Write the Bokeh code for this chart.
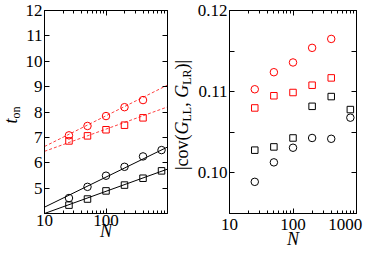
from bokeh.plotting import figure
from bokeh.models import (Div, LogAxis, LinearAxis, FixedTicker,
                          PrintfTickFormatter, CustomJSTickFormatter, Range1d)
from bokeh.layouts import row
from bokeh.embed import file_html
from bokeh.resources import INLINE

# ---------------- data: left panel (t_on vs N) ----------------
N_left = [25, 50, 100, 200, 400, 800]
ton_black_circle = [4.61, 5.05, 5.49, 5.84, 6.25, 6.50]
ton_black_square = [4.33, 4.57, 4.89, 5.12, 5.39, 5.68]
N_red = [25, 50, 100, 200, 400]
ton_red_circle = [7.08, 7.45, 7.84, 8.19, 8.47]
ton_red_square = [6.86, 7.06, 7.30, 7.48, 7.77]

fit_N = [10, 1000]
fit_black_circle = [4.25, 6.62]
fit_black_square = [4.00, 5.75]
fit_red_circle = [6.64, 9.06]
fit_red_square = [6.45, 8.20]

left_yticks = [5, 6, 7, 8, 9, 10, 11, 12]
left_xticks = [10, 100]

# ---------------- data: right panel (|cov| vs N) ----------------
N_right_red = [25, 50, 100, 200, 400]
cov_red_circle = [0.1103, 0.1124, 0.1136, 0.1154, 0.1165]
cov_red_square = [0.1080, 0.1095, 0.1099, 0.1108, 0.1117]
N_right_black = [25, 50, 100, 200, 400, 800]
cov_black_square = [0.1028, 0.1032, 0.1043, 0.1082, 0.1094, 0.1078]
cov_black_circle = [0.0989, 0.1013, 0.1031, 0.1043, 0.1042, 0.1068]

right_yticks = [0.10, 0.11, 0.12]
right_yminor = [0.105, 0.115]
right_xticks = [10, 100, 1000]

x_minor = [20, 30, 40, 50, 60, 70, 80, 90, 200, 300, 400, 500, 600, 700, 800, 900]

FONT = "Liberation Serif"
RED = "#ff0000"
H = 251          # figure height
TOP_B = 10
BOT_B = 31
FRAME_H = H - TOP_B - BOT_B
CENTER_FROM_TOP = TOP_B + FRAME_H / 2


def style_axis(ax, show_labels=True, minor=True, minor_len=3, standoff=2):
    ax.axis_line_color = "black"
    ax.major_tick_in = 5
    ax.major_tick_out = 0
    ax.minor_tick_in = minor_len if minor else 0
    ax.minor_tick_out = 0
    ax.major_tick_line_color = "black"
    ax.minor_tick_line_color = "black" if minor else None
    ax.major_label_text_font = FONT
    ax.major_label_text_font_size = "17px"
    ax.major_label_text_color = "black"
    ax.major_label_standoff = standoff if show_labels else 0
    if not show_labels:
        ax.formatter = CustomJSTickFormatter(code="return ''")


def make_fig(width, left_b, right_b, y_range):
    p = figure(x_axis_type="log", x_range=Range1d(10, 1000), y_range=y_range,
               width=width, height=H,
               min_border_left=left_b, min_border_right=right_b,
               min_border_top=TOP_B, min_border_bottom=BOT_B,
               output_backend="svg", toolbar_location=None)
    p.grid.visible = False
    p.outline_line_color = "black"
    p.background_fill_color = "white"
    p.border_fill_color = "white"
    return p


def label_div(width, inner_html, left):
    html = (
        f'<div style="position:absolute; left:{left}px; top:{CENTER_FROM_TOP}px; '
        'transform-origin:0 0; transform:rotate(-90deg) translateX(-50%); '
        f"white-space:nowrap; font-family:'{FONT}', serif; font-size:18px; "
        'line-height:18px; color:black;">' + inner_html + '</div>'
    )
    return Div(text=html, width=width, height=H, margin=0,
               styles={"position": "relative", "overflow": "visible"})


SUB = '<span style="font-size:12px; position:relative; top:3px;">{}</span>'


def style_xlabel(ax):
    ax.axis_label = "N"
    ax.axis_label_text_font = FONT
    ax.axis_label_text_font_size = "18px"
    ax.axis_label_text_font_style = "italic"
    ax.axis_label_text_color = "black"
    ax.axis_label_standoff = -8


# ---------------- left figure ----------------
p1 = make_fig(146, 19, 1, Range1d(4, 12))
p1.line(fit_N, fit_black_circle, color="black", line_width=1)
p1.line(fit_N, fit_black_square, color="black", line_width=1)
p1.line(fit_N, fit_red_circle, color=RED, line_width=1, line_dash="3 2", line_alpha=0.75)
p1.line(fit_N, fit_red_square, color=RED, line_width=1, line_dash="3 2", line_alpha=0.75)
p1.scatter(N_left, ton_black_circle, marker="circle", size=7.5, fill_color=None,
           line_color="black", line_width=1)
p1.scatter(N_left, ton_black_square, marker="square", size=6.5, fill_color=None,
           line_color="black", line_width=1)
p1.scatter(N_red, ton_red_circle, marker="circle", size=7.5, fill_color=None,
           line_color=RED, line_width=1)
p1.scatter(N_red, ton_red_square, marker="square", size=6.5, fill_color=None,
           line_color=RED, line_width=1)

xa = p1.xaxis[0]
xa.ticker = FixedTicker(ticks=left_xticks, minor_ticks=x_minor)
xa.formatter = PrintfTickFormatter(format="%d")
style_axis(xa, standoff=1)
style_xlabel(xa)
ya = p1.yaxis[0]
ya.ticker = FixedTicker(ticks=left_yticks, minor_ticks=[])
style_axis(ya)

top1 = LogAxis(ticker=FixedTicker(ticks=left_xticks, minor_ticks=x_minor))
style_axis(top1, show_labels=False)
p1.add_layout(top1, "above")
right1 = LinearAxis(ticker=FixedTicker(ticks=left_yticks, minor_ticks=[]))
style_axis(right1, show_labels=False)
p1.add_layout(right1, "right")

s1 = label_div(22, '<i>t</i>' + SUB.format('on'), 2)

# ---------------- right figure ----------------
p2 = make_fig(172, 35, 10, Range1d(0.095, 0.12))
p2.scatter(N_right_red, cov_red_circle, marker="circle", size=7.5, fill_color=None,
           line_color=RED, line_width=1)
p2.scatter(N_right_red, cov_red_square, marker="square", size=6.5, fill_color=None,
           line_color=RED, line_width=1)
p2.scatter(N_right_black, cov_black_square, marker="square", size=6.5, fill_color=None,
           line_color="black", line_width=1)
p2.scatter(N_right_black, cov_black_circle, marker="circle", size=7.5, fill_color=None,
           line_color="black", line_width=1)

xb = p2.xaxis[0]
xb.ticker = FixedTicker(ticks=right_xticks, minor_ticks=x_minor)
xb.formatter = CustomJSTickFormatter(
    code="return tick >= 999 ? '1000\\u00a0' : tick.toFixed(0)")
style_axis(xb, standoff=1)
style_xlabel(xb)
yb = p2.yaxis[0]
yb.ticker = FixedTicker(ticks=right_yticks, minor_ticks=right_yminor)
yb.formatter = PrintfTickFormatter(format="%.2f")
style_axis(yb, minor_len=5)

top2 = LogAxis(ticker=FixedTicker(ticks=right_xticks, minor_ticks=x_minor))
style_axis(top2, show_labels=False)
p2.add_layout(top2, "above")
right2 = LinearAxis(ticker=FixedTicker(ticks=right_yticks, minor_ticks=right_yminor))
style_axis(right2, show_labels=False, minor_len=5)
p2.add_layout(right2, "right")

s2 = label_div(26, '|cov(<i>G</i>' + SUB.format('LL') + ', <i>G</i>'
               + SUB.format('LR') + ')|', 5)

layout = row(s1, p1, s2, p2, spacing=0)
open("out.html", "w").write(file_html(layout, INLINE))
